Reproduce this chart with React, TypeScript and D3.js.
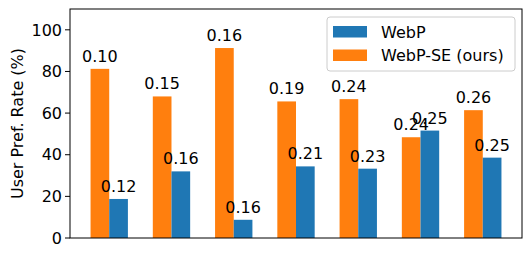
import * as d3 from 'd3'

const groups = ['g1', 'g2', 'g3', 'g4', 'g5', 'g6', 'g7']
const webpSE = [81.25, 68.0, 91.25, 65.6, 66.7, 48.4, 61.4]
const webp = [18.75, 32.0, 8.75, 34.4, 33.3, 51.6, 38.6]
const webpSELabels = ['0.10', '0.15', '0.16', '0.19', '0.24', '0.24', '0.26']
const webpLabels = ['0.12', '0.16', '0.16', '0.21', '0.23', '0.25', '0.25']
const yTicks = [0, 20, 40, 60, 80, 100]

const W = 532
const H = 257
const margin = { top: 9, right: 10, bottom: 19, left: 70 }
const BLUE = '#1f77b4'
const ORANGE = '#ff7f0e'
const FONT = 'DejaVu Sans, sans-serif'

export default function App() {
  const iw = W - margin.left - margin.right
  const ih = H - margin.top - margin.bottom
  const barW = 0.3

  // matplotlib-style linear x: groups at 0..6, bars +-0.15, 5% margins
  const x = d3.scaleLinear().domain([-0.63, groups.length - 1 + 0.63]).range([0, iw])
  const y = d3.scaleLinear().domain([0, 110]).range([ih, 0])
  const bw = x(barW) - x(0)

  return (
    <svg
      width={W}
      height={H}
      style={{ position: 'absolute', left: 0, top: 0, background: '#fff' }}
      fontFamily={FONT}
    >
      <g transform={`translate(${margin.left},${margin.top})`}>
        {groups.map((g, i) => (
          <g key={g}>
            <rect x={x(i - barW)} y={y(webpSE[i])} width={bw} height={ih - y(webpSE[i])} fill={ORANGE} />
            <rect x={x(i)} y={y(webp[i])} width={bw} height={ih - y(webp[i])} fill={BLUE} />
          </g>
        ))}
        {groups.map((g, i) => (
          <g key={g + 't'} fontSize={16} fill="#000" textAnchor="middle">
            <text x={x(i - barW / 2)} y={y(webpSE[i]) - 7}>{webpSELabels[i]}</text>
            <text x={x(i + barW / 2)} y={y(webp[i]) - 7}>{webpLabels[i]}</text>
          </g>
        ))}

        {/* y axis */}
        {yTicks.map((t) => (
          <g key={t} transform={`translate(0,${y(t)})`}>
            <line x1={-5} x2={0} stroke="#000" strokeWidth={1} />
            <text x={-8} dy="0.36em" textAnchor="end" fontSize={16} fill="#000">{t}</text>
          </g>
        ))}
        <text
          transform={`translate(${-47},${ih / 2}) rotate(-90)`}
          textAnchor="middle"
          fontSize={16}
          fill="#000"
        >
          User Pref. Rate (%)
        </text>

        <rect x={0} y={0} width={iw} height={ih} fill="none" stroke="#000" strokeWidth={1} />

        {/* legend */}
        <g transform={`translate(${iw - 195},${8})`}>
          <rect x={0} y={0} width={188} height={54} rx={3} fill="#fff" fillOpacity={0.8} stroke="#ccc" />
          <rect x={6} y={9} width={34} height={11.5} fill={BLUE} />
          <text x={54} y={15} dy="0.36em" fontSize={16} fill="#000">WebP</text>
          <rect x={6} y={32.5} width={34} height={11.5} fill={ORANGE} />
          <text x={54} y={38.5} dy="0.36em" fontSize={16} fill="#000">WebP-SE (ours)</text>
        </g>
      </g>
    </svg>
  )
}
